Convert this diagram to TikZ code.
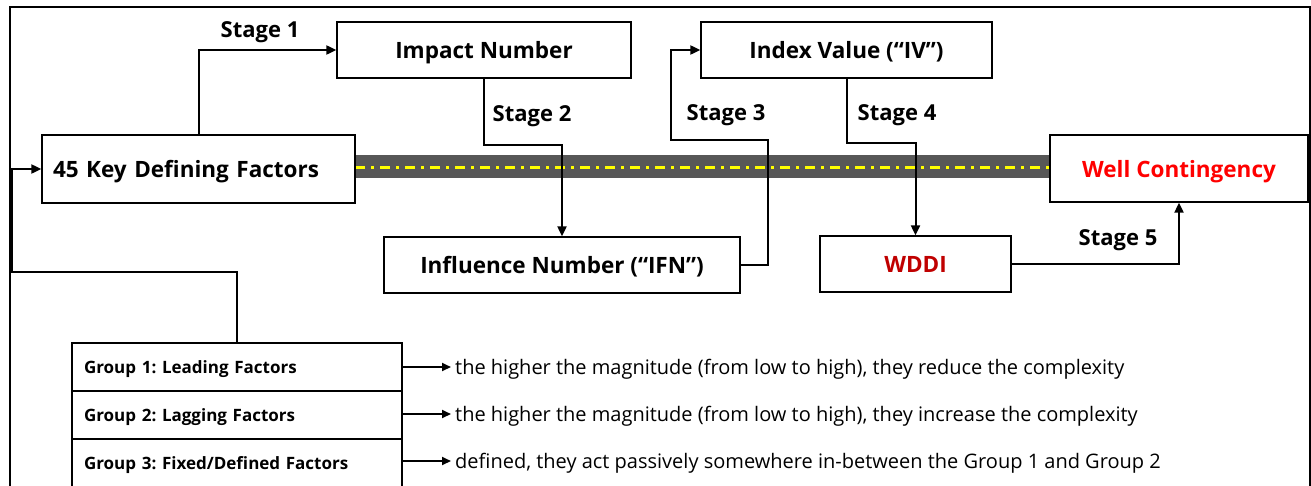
\documentclass[tikz,border=0pt]{standalone}
\usepackage{fontspec}
\setmainfont{Open Sans}
\usetikzlibrary{arrows.meta}
\definecolor{roadgray}{HTML}{575757}
\definecolor{wddired}{HTML}{C00000}
\definecolor{wcred}{HTML}{FF0000}
\definecolor{lineyellow}{HTML}{FFFF00}
\frenchspacing
\begin{document}
\begin{tikzpicture}[x=1pt,y=-1pt,
  box/.style={draw=black,line width=1.3pt,fill=white,inner sep=0pt,text depth=0pt,font=\bfseries\fontsize{22.5}{27}\selectfont},
  conn/.style={line width=2pt,-{Triangle[length=10pt,width=9pt]}},
  arr/.style={line width=2pt,-{Triangle[length=9pt,width=8pt]}},
  stagelbl/.style={font=\bfseries\fontsize{22}{26}\selectfont,anchor=base,inner sep=0pt},
  grp/.style={draw=black,line width=1.3pt,minimum width=330pt,minimum height=48pt,text width=306pt,inner xsep=12pt,inner ysep=0pt,text depth=0pt,align=left,font=\bfseries\fontsize{17}{20}\selectfont},
  desc/.style={anchor=west,inner xsep=4pt,text depth=0pt,font=\fontsize{20}{24}\selectfont},
]
\useasboundingbox (0,0) rectangle (1311,485);
\clip (0,0) rectangle (1311,485);
% outer frame
\draw[line width=1.3pt] (10,7) rectangle (1310,520);
% road
\fill[roadgray] (355,155) rectangle (1050,178);
\draw[lineyellow,line width=3pt,dash pattern=on 10pt off 6pt on 3pt off 6pt] (355,167) -- (1050,167);
% boxes
\node[box,minimum width=313pt,minimum height=68pt,text width=291pt,inner xsep=11pt,align=left] (kdf) at (198.5,169) {45 Key Defining Factors};
\node[box,minimum width=294pt,minimum height=56pt] (imp) at (484,50) {Impact Number};
\node[box,minimum width=291pt,minimum height=56pt] (iv) at (846.5,50) {Index Value (“IV”)};
\node[box,minimum width=356pt,minimum height=56pt] (ifn) at (562,265) {Influence Number (“IFN”)};
\node[box,minimum width=191pt,minimum height=56pt,text=wddired] (wddi) at (915.5,264) {WDDI};
\node[box,minimum width=258pt,minimum height=67pt,text=wcred] (wc) at (1179,168.5) {Well Contingency};
% group table
\node[grp] (g1) at (237,367) {Group 1: Leading Factors};
\node[grp] (g2) at (237,415) {Group 2: Lagging Factors};
\node[grp] (g3) at (237,463) {Group 3: Fixed/Defined Factors};
\node[desc] (d1) at (451,367) {the higher the magnitude (from low to high), they reduce the complexity};
\node[desc] (d2) at (451,414) {the higher the magnitude (from low to high), they increase the complexity};
\node[desc] (d3) at (451,461) {defined, they act passively somewhere in-between the Group 1 and Group 2};
\draw[arr] (g1.east |- d1.west) -- (d1.west);
\draw[arr] (g2.east |- d2.west) -- (d2.west);
\draw[arr] (g3.east |- d3.west) -- (d3.west);
% connectors
\coordinate (lc) at (12,272);
\draw[conn] (g1.north) |- (lc) |- (kdf.west);
\draw[conn] (kdf.north) |- (imp.west);
\coordinate (s2) at (561,145);
\draw[conn] (imp.south) |- (s2) -| (ifn.north);
\coordinate (s3a) at (768,140);
\coordinate (s3b) at (671,50);
\draw[conn] (ifn.east) -| (s3a) -| (s3b) -- (iv.west);
\coordinate (s4) at (915,143);
\draw[conn] (iv.south) |- (s4) -| (wddi.north);
\draw[conn] (wddi.east) -| (wc.south);
% stage labels
\node[stagelbl] (l1) at (260,37) {Stage 1};
\node[stagelbl] (l2) at (532,121) {Stage 2};
\node[stagelbl] (l3) at (726,120) {Stage 3};
\node[stagelbl] (l4) at (897,120) {Stage 4};
\node[stagelbl] (l5) at (1118,245) {Stage 5};
\end{tikzpicture}
\end{document}
